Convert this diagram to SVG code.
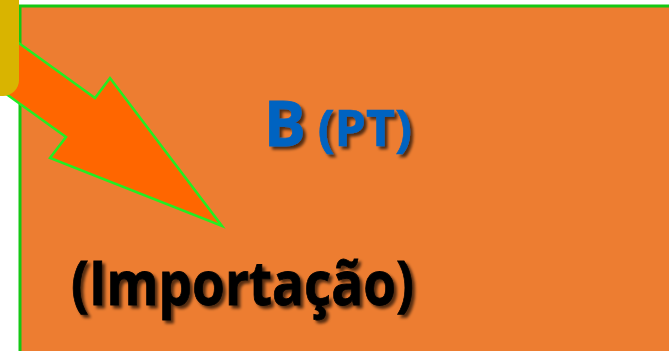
<svg xmlns="http://www.w3.org/2000/svg" width="669" height="351" viewBox="0 0 669 351">
<defs>
<filter id="sh" x="-10%" y="-20%" width="130%" height="150%">
<feDropShadow dx="3" dy="3" stdDeviation="1.6" flood-color="#000" flood-opacity="0.65"/>
</filter>
<style>
.t{font-family:"Open Sans","Liberation Sans",sans-serif;font-weight:bold;filter:url(#sh)}
</style>
</defs>
<rect width="669" height="351" fill="#fff"/>
<g id="box">
<rect x="20" y="6" width="660" height="360" fill="#ED7D31" stroke="#14C814" stroke-width="3"/>
</g>
<g id="connectors">
<polygon points="-20,15 95,98 110,78 222,226 50,158 66,137 -30,68" fill="#FF6600" stroke="#22EE22" stroke-width="2.5" stroke-linejoin="miter"/>
</g>
<g id="corner">
<path d="M0,0 H19 V80 A16,16 0 0 1 3,96 H0 Z" fill="#D9B400"/>
</g>
<g id="labelB">
<text class="t" x="264" y="146" fill="#0563C1"><tspan font-size="62" stroke="#0563C1" stroke-width="0.8">B</tspan><tspan font-size="50" dx="12" stroke="#0563C1" stroke-width="0.6">(PT)</tspan></text>
</g>
<g id="labelImp">
<text class="t" x="71" y="305" font-size="60" fill="#000" stroke="#000" stroke-width="0.8" textLength="343" lengthAdjust="spacingAndGlyphs">(Importação)</text>
</g>
</svg>
